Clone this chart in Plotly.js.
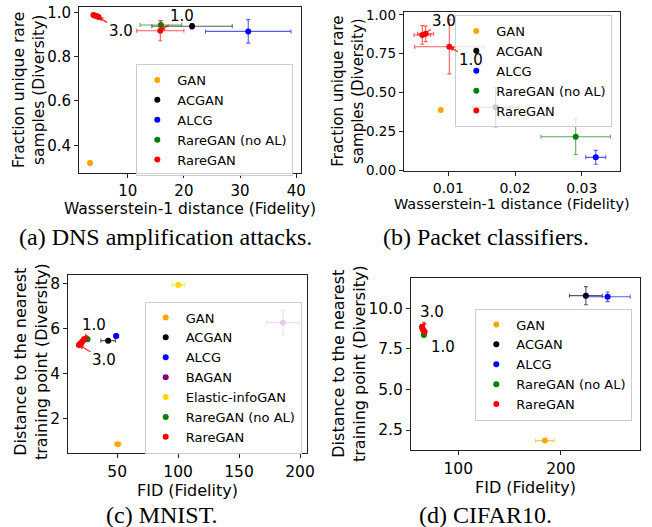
<!DOCTYPE html>
<html><head><meta charset="utf-8">
<script src="https://cdn.plot.ly/plotly-3.0.1.min.js"></script>
<style>html,body{margin:0;padding:0;background:#fff}#chart{width:652px;height:527px}</style>
</head><body><div id="chart"></div>
<script>
// ---------- (a) DNS amplification attacks ----------
const dnsMethods = ['GAN', 'ACGAN', 'ALCG', 'RareGAN (no AL)'];
const dnsX = [3.3, 21.45, 31.45, 15.9];
const dnsXErr = [0.3, 7.15, 7.6, 3.7];
const dnsY = [0.32, 0.937, 0.914, 0.943];
const dnsYErr = [0.01, 0.012, 0.053, 0.02];
const dnsRatios = ['1.0', '1.5', '2.0', '2.5', '3.0'];
const dnsRareX = [15.8, 3.9, 4.2, 4.5, 4.8];
const dnsRareXErr = [4.2, 0.3, 0.3, 0.3, 0.3];
const dnsRareY = [0.917, 0.988, 0.985, 0.983, 0.979];
const dnsRareYErr = [0.045, 0.004, 0.004, 0.004, 0.004];
const dnsXTicks = [10, 20, 30, 40];
const dnsYTicks = [0.4, 0.6, 0.8, 1.0];
const dnsYTickText = ['0.4', '0.6', '0.8', '1.0'];

// ---------- (b) Packet classifiers ----------
const pktMethods = ['GAN', 'ACGAN', 'ALCG', 'RareGAN (no AL)'];
const pktX = [0.00886, 0.0171, 0.0321, 0.0291];
const pktXErr = [0.0002, 0.0035, 0.0015, 0.0052];
const pktY = [0.387, 0.405, 0.082, 0.215];
const pktYErr = [0.008, 0.125, 0.045, 0.115];
const pktRatios = ['1.0', '2.0', '3.0'];
const pktRareX = [0.01015, 0.0066, 0.0061];
const pktRareXErr = [0.0052, 0.0012, 0.00125];
const pktRareY = [0.795, 0.878, 0.871];
const pktRareYErr = [0.175, 0.05, 0.06];
const pktXTicks = [0.01, 0.02, 0.03];
const pktYTicks = [0.0, 0.25, 0.5, 0.75, 1.0];

// ---------- (c) MNIST ----------
const mnistMethods = ['GAN', 'ACGAN', 'ALCG', 'BAGAN', 'Elastic-infoGAN', 'RareGAN (no AL)'];
const mnistX = [50.5, 42.6, 49.2, 186, 100.2, 25.7];
const mnistXErr = [2.5, 6, 2, 13.4, 5, 1.5];
const mnistY = [0.845, 5.45, 5.66, 6.25, 7.92, 5.51];
const mnistYErr = [0.05, 0.05, 0.1, 0.55, 0.05, 0.05];
const mnistRatios = ['1.0', '1.5', '2.0', '2.5', '3.0'];
const mnistRareX = [23.0, 22.0, 21.0, 19.8, 18.6];
const mnistRareXErr = [1.0, 1.0, 1.0, 1.0, 1.0];
const mnistRareY = [5.52, 5.45, 5.38, 5.32, 5.26];
const mnistRareYErr = [0.05, 0.05, 0.05, 0.05, 0.05];
const mnistXTicks = [50, 100, 150, 200];
const mnistYTicks = [2, 4, 6, 8];

// ---------- (d) CIFAR10 ----------
const cifarMethods = ['GAN', 'ACGAN', 'ALCG', 'RareGAN (no AL)'];
const cifarX = [184.4, 224.3, 245.5, 66.6];
const cifarXErr = [9, 16, 22, 1.5];
const cifarY = [1.85, 10.78, 10.71, 8.36];
const cifarYErr = [0.05, 0.56, 0.3, 0.08];
const cifarRatios = ['1.0', '1.5', '2.0', '2.5', '3.0'];
const cifarRareX = [67.3, 66.5, 65.5, 65.0, 64.8];
const cifarRareXErr = [1.0, 1.0, 1.0, 1.0, 1.0];
const cifarRareY = [8.55, 8.62, 8.7, 8.78, 8.87];
const cifarRareYErr = [0.08, 0.08, 0.08, 0.08, 0.08];
const cifarXTicks = [100, 200];
const cifarYTicks = [2.5, 5.0, 7.5, 10.0];

// ---------- styling ----------
const COLORS = {
  'GAN': 'rgb(255,165,0)', 'ACGAN': 'rgb(0,0,0)', 'ALCG': 'rgb(0,0,255)',
  'BAGAN': 'rgb(128,0,128)', 'Elastic-infoGAN': 'rgb(255,215,0)',
  'RareGAN (no AL)': 'rgb(0,128,0)', 'RareGAN': 'rgb(255,0,0)'
};
const FONT = 'DejaVu Sans';
function errColor(c) { return c.replace('rgb(', 'rgba(').replace(')', ',0.65)'); }

function trace(name, x, y, xe, ye, ax, legend) {
  const c = COLORS[name];
  return {
    type: 'scatter', mode: 'markers', name: name, x: x, y: y,
    xaxis: 'x' + ax, yaxis: 'y' + ax, legend: legend,
    marker: {color: c, size: 6},
    error_x: {type: 'data', array: xe, color: errColor(c), thickness: 1.1, width: 2},
    error_y: {type: 'data', array: ye, color: errColor(c), thickness: 1.1, width: 2}
  };
}

const traces = [];
function addPanel(methods, X, XE, Y, YE, rX, rXE, rY, rYE, ax, legend) {
  methods.forEach((m, i) => traces.push(trace(m, [X[i]], [Y[i]], [XE[i]], [YE[i]], ax, legend)));
  traces.push(trace('RareGAN', rX, rY, rXE, rYE, ax, legend));
}
addPanel(dnsMethods, dnsX, dnsXErr, dnsY, dnsYErr, dnsRareX, dnsRareXErr, dnsRareY, dnsRareYErr, '', 'legend');
addPanel(pktMethods, pktX, pktXErr, pktY, pktYErr, pktRareX, pktRareXErr, pktRareY, pktRareYErr, '2', 'legend2');
addPanel(mnistMethods, mnistX, mnistXErr, mnistY, mnistYErr, mnistRareX, mnistRareXErr, mnistRareY, mnistRareYErr, '3', 'legend3');
addPanel(cifarMethods, cifarX, cifarXErr, cifarY, cifarYErr, cifarRareX, cifarRareXErr, cifarRareY, cifarRareYErr, '4', 'legend4');

const W = 652, H = 527;
const px = v => v / W, py = v => 1 - v / H;

function axis(anchor, domain, range, tickvals, ticktext, fmt, title, fs, standoff) {
  const a = {
    anchor: anchor, domain: domain, range: range, tickvals: tickvals,
    showgrid: false, zeroline: false, showline: true, mirror: true,
    linecolor: '#222', linewidth: 1, ticks: 'outside', ticklen: 4, tickwidth: 1, tickcolor: '#222',
    tickfont: {family: FONT, size: fs, color: '#000'},
    fixedrange: true
  };
  if (title) a.title = {text: title, font: {family: FONT, size: fs + 0.5, color: '#000'}, standoff: standoff};
  if (ticktext) a.ticktext = ticktext;
  if (fmt) a.tickformat = fmt;
  return a;
}

function legendBox(xr, yc, fs, anchor) {
  return {
    x: px(xr), xanchor: 'right', y: py(yc), yanchor: anchor || 'middle',
    bgcolor: 'rgba(255,255,255,0.8)', bordercolor: '#cccccc', borderwidth: 1,
    font: {family: FONT, size: fs, color: '#000'}, itemwidth: 30
  };
}

function arrowNote(text, x, y, ax, ay, xref, yref) {
  return {
    text: text, x: x, y: y, xref: xref, yref: yref, ax: ax, ay: ay,
    showarrow: true, arrowhead: 2, arrowsize: 0.8, arrowwidth: 1.2, arrowcolor: 'rgba(255,0,0,0.85)',
    font: {family: FONT, size: 15, color: '#000'}, standoff: 0
  };
}
function yTitle(text, xc, yc, fs) {
  return {text: text, x: px(xc), y: py(yc), xref: 'paper', yref: 'paper', textangle: -90,
    xanchor: 'center', yanchor: 'middle', showarrow: false, align: 'center',
    font: {family: FONT, size: fs, color: '#000'}};
}
function caption(text, xc, yc) {
  return {text: text, x: px(xc), y: py(yc), xref: 'paper', yref: 'paper',
    xanchor: 'center', yanchor: 'middle', showarrow: false,
    font: {family: 'Liberation Serif', size: 24, color: '#000'}};
}

const layout = {
  width: W, height: H, margin: {l: 0, r: 0, t: 0, b: 0},
  paper_bgcolor: '#fff', plot_bgcolor: '#fff', showlegend: true,
  font: {family: FONT, color: '#000'},
  xaxis: axis('y', [px(79), px(301)], [1.33, 40.84], dnsXTicks, null, null, 'Wasserstein-1 distance (Fidelity)', 15, 0),
  yaxis: axis('x', [py(173), py(7)], [0.275, 1.024], dnsYTicks, dnsYTickText, null, null, 15, 0),
  xaxis2: axis('y2', [px(403.7), px(620)], [0.00331, 0.03574], pktXTicks, null, '.2f', 'Wasserstein-1 distance (Fidelity)', 14, 0),
  yaxis2: axis('x2', [py(171.3), py(12.3)], [-0.008, 1.017], pktYTicks, null, '.2f', null, 13.5, 0),
  xaxis3: axis('y3', [px(68.3), px(306.7)], [9.9, 205.5], mnistXTicks, null, null, 'FID (Fidelity)', 15.5, 0),
  yaxis3: axis('x3', [py(453.3), py(275)], [0.44, 8.37], mnistYTicks, null, null, null, 15.5, 0),
  xaxis4: axis('y4', [px(411), px(640)], [54, 277], cifarXTicks, null, null, 'FID (Fidelity)', 15.5, 0),
  yaxis4: axis('x4', [py(450), py(278.3)], [1.27, 11.85], cifarYTicks, null, '.1f', null, 15.5, 0),
  legend: legendBox(293.3, 120, 13),
  legend2: legendBox(612.3, 15, 13, 'top'),
  legend3: legendBox(301.7, 377.5, 13),
  legend4: legendBox(632.3, 364.5, 13),
  annotations: [
    yTitle('Fraction unique rare<br>samples (Diversity)', 29, 90, 15.5),
    yTitle('Fraction unique rare<br>samples (Diversity)', 348, 91.8, 15),
    yTitle('Distance to the nearest<br>training point (Diversity)', 31, 362, 16),
    yTitle('Distance to the nearest<br>training point (Diversity)', 349, 364, 16),
    arrowNote('1.0', dnsRareX[0], dnsRareY[0], 22, -15, 'x', 'y'),
    arrowNote('3.0', dnsRareX[4], dnsRareY[4], 22, 14, 'x', 'y'),
    arrowNote('3.0', pktRareX[2], pktRareY[2], 22, -14, 'x2', 'y2'),
    arrowNote('1.0', pktRareX[0], pktRareY[0], 22, 13, 'x2', 'y2'),
    arrowNote('1.0', mnistRareX[0], mnistRareY[0], 10, -14, 'x3', 'y3'),
    arrowNote('3.0', mnistRareX[4], mnistRareY[4], 25, 15, 'x3', 'y3'),
    arrowNote('3.0', cifarRareX[4], cifarRareY[4], 10, -15, 'x4', 'y4'),
    arrowNote('1.0', cifarRareX[0], cifarRareY[0], 18, 15, 'x4', 'y4'),
    caption('(a) DNS amplification attacks.', 166, 237),
    caption('(b) Packet classifiers.', 486, 237),
    caption('(c) MNIST.', 162, 515),
    caption('(d) CIFAR10.', 485, 515)
  ]
};

Plotly.newPlot('chart', traces, layout, {displayModeBar: false, staticPlot: true});
</script>
</body></html>
